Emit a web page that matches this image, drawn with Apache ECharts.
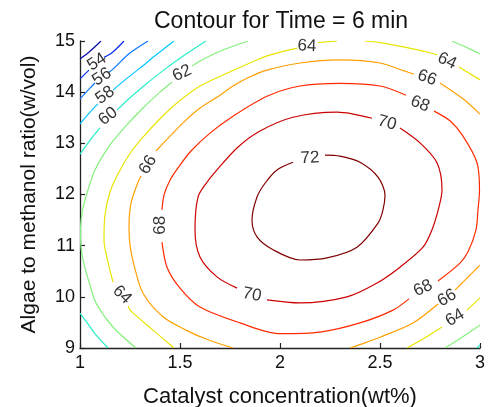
<!DOCTYPE html>
<html><head><meta charset="utf-8">
<script src="https://cdn.jsdelivr.net/npm/echarts@6/dist/echarts.min.js"></script>
<style>html,body{margin:0;padding:0;background:#fff}#c{width:493px;height:407px}</style>
</head><body><div id="c"></div>
<script>
const FONT = '"Liberation Sans", Arial, Helvetica, sans-serif';
const titleText = 'Contour for Time = 6 min';
const xName = 'Catalyst concentration(wt%)';
const yName = 'Algae to methanol ratio(w/vol)';
const xRange = [1, 3, 0.5];
const yRange = [9, 15, 1];

// contour lines, [x, y]; null = break (label gap / separate piece)
const c52 = [[1.0,14.65],[1.05,14.80],[1.105,15.0]];
const c54 = [[1.0,14.26],[1.045,14.43],null,[1.12,14.68],[1.16,14.77],[1.22,15.0]];
const c56 = [[1.0,13.87],[1.05,14.08],[1.075,14.18],null,[1.145,14.39],[1.165,14.45],[1.245,14.75],[1.34,15.0]];
const c58 = [[1.0,13.38],[1.05,13.61],[1.09,13.77],null,[1.165,14.04],[1.225,14.24],[1.30,14.47],[1.375,14.71],[1.47,15.0]];
const c60 = [[1.0,12.79],[1.05,13.06],[1.10,13.30],null,[1.185,13.65],[1.25,13.89],[1.325,14.14],[1.425,14.45],[1.525,14.73],[1.63,15.0],
  null,[1.0,9.68],[1.04,9.47],[1.085,9.23],[1.14,9.0],
  null,[2.985,9.0],[3.0,9.06]];
const c62 = [[1.84,15.0],[1.70,14.80],[1.60,14.61],[1.56,14.51],null,[1.46,14.20],[1.40,14.00],[1.315,13.69],[1.225,13.32],[1.15,12.97],[1.075,12.48],[1.04,12.09],[1.015,11.74],[1.0025,11.31],[1.005,10.97],[1.025,10.56],[1.05,10.23],[1.08,9.88],[1.165,9.41],[1.28,9.0],
  null,[2.86,15.0],[2.93,14.88],[3.0,14.75],
  null,[2.825,9.0],[2.91,9.21],[3.0,9.45]];
const c64 = [[1.47,9.0],[1.365,9.35],[1.255,9.72],[1.24,9.82],null,[1.165,10.29],[1.14,10.68],[1.12,11.11],[1.125,11.60],[1.15,12.05],[1.195,12.44],[1.255,12.83],[1.315,13.12],[1.40,13.48],[1.485,13.79],[1.60,14.12],[1.735,14.37],[1.85,14.57],[1.935,14.71],[2.085,14.86],
  null,[2.19,14.97],[2.285,15.0],
  null,[2.425,15.0],[2.50,14.97],[2.625,14.88],[2.75,14.77],[2.785,14.73],null,[2.895,14.49],[3.0,14.24],
  null,[2.635,9.0],[2.725,9.20],[2.81,9.41],null,[2.935,9.74],[3.0,9.98]];
const c66 = [[1.765,9.0],[1.64,9.16],[1.53,9.35],[1.415,9.61],[1.315,10.07],[1.27,10.62],[1.25,11.01],[1.245,11.36],[1.255,11.83],[1.29,12.24],[1.305,12.36],null,[1.38,12.85],[1.45,13.14],[1.515,13.40],[1.60,13.69],[1.70,13.94],[1.765,14.12],[1.85,14.30],[1.935,14.43],[2.10,14.57],[2.30,14.63],[2.50,14.57],[2.625,14.41],[2.67,14.35],null,[2.80,14.18],[2.915,13.87],[3.0,13.57],
  null,[3.0,10.62],[2.875,10.13],null,[2.79,9.86],[2.665,9.49],[2.50,9.21],[2.425,9.10],[2.35,9.0]];
const c68 = [[1.41,11.70],[1.42,11.99],[1.45,12.28],[1.49,12.52],[1.555,12.85],[1.65,13.20],[1.765,13.53],[1.935,13.92],[2.10,14.12],[2.30,14.17],[2.50,14.12],[2.63,13.94],null,[2.77,13.63],[2.85,13.44],[2.915,13.14],[2.985,12.62],[2.9975,12.09],[2.99,11.70],[2.98,11.31],[2.94,10.88],[2.90,10.66],[2.79,10.31],null,[2.645,9.96],[2.565,9.74],[2.40,9.49],[2.20,9.31],[2.0,9.28],[1.80,9.49],[1.60,9.80],[1.50,10.17],[1.435,10.58],[1.41,11.07]];
const c70 = [[2.60,13.30],[2.70,13.01],[2.785,12.62],[2.81,12.09],[2.795,11.76],[2.76,11.31],[2.715,10.97],[2.60,10.58],[2.485,10.27],[2.335,10.00],[2.10,9.88],[1.935,9.94],null,[1.785,10.17],[1.685,10.39],[1.60,10.78],[1.575,11.31],[1.59,11.95],[1.635,12.24],[1.685,12.48],[1.785,12.91],[1.90,13.24],[2.065,13.51],[2.285,13.61],[2.46,13.49]];
const c72 = [[2.225,12.77],[2.30,12.75],[2.40,12.63],[2.49,12.34],[2.525,11.99],[2.515,11.70],[2.49,11.44],[2.385,10.97],[2.235,10.76],[2.10,10.72],[1.965,10.92],[1.885,11.17],[1.86,11.50],[1.885,11.95],[1.925,12.22],[1.985,12.48],[2.065,12.63]];

const levels = [52,54,56,58,60,62,64,66,68,70,72];
const levelLines = [c52,c54,c56,c58,c60,c62,c64,c66,c68,c70,c72];
const levelColors = ['#0a0aa8','#0a2cf0','#0a78ff','#00c8ff','#28eec8','#84f27c','#e8e400','#ffa000','#ff2a00','#cc0000','#800000'];

// contour labels: level, x, y, angle
const labelLevel = [54,56,58,60,62,64,64,64,64,66,66,66,68,68,68,70,70,72];
const labelX     = [1.085,1.11,1.125,1.14,1.51,1.21,2.135,2.835,2.875,1.34,2.735,2.835,1.40,2.70,2.715,2.535,1.86,2.15];
const labelY     = [14.59,14.30,13.94,13.53,14.37,10.04,14.90,14.61,9.59,12.58,14.28,9.98,11.40,13.77,10.17,13.40,10.04,12.71];
const labelAngle = [33,33,35,38,25,-45,-3,-25,30,59,-20,30,90,-22,25,-15,-12,3];

function splitSegs(arr){
  const out=[]; let cur=[];
  arr.forEach(p=>{ if(p===null){ if(cur.length) out.push(cur); cur=[]; } else cur.push(p); });
  if(cur.length) out.push(cur);
  return out;
}

const series = [];
levelLines.forEach((arr,i)=>{
  splitSegs(arr).forEach(seg=>{
    series.push({type:'line', data:seg, showSymbol:false, smooth:0.3, silent:true,
      lineStyle:{color:levelColors[i], width:1.2}, z:2});
  });
});
series.push({
  type:'scatter', symbolSize:1, itemStyle:{color:'rgba(0,0,0,0)'}, silent:true, z:5,
  data: labelLevel.map((lv,i)=>({value:[labelX[i],labelY[i]],
    label:{show:true, position:'inside', formatter:String(lv), rotate:labelAngle[i],
      fontSize:17, color:'#000', fontFamily:FONT, textBorderWidth:0}}))
});

const chart = echarts.init(document.getElementById('c'), null, {renderer:'canvas'});
chart.setOption({
  animation:false,
  backgroundColor:'#fff',
  title:{text:titleText, left:149, top:5, textStyle:{fontSize:23, fontWeight:'normal', color:'#111', fontFamily:FONT}},
  grid:{left:80, right:13, top:41, bottom:59, containLabel:false, outerBoundsMode:'none'},
  xAxis:{type:'value', min:xRange[0], max:xRange[1], interval:xRange[2],
    name:xName, nameLocation:'middle', nameGap:38,
    nameTextStyle:{fontSize:22, color:'#111', fontFamily:FONT},
    axisLine:{show:true, onZero:false, lineStyle:{color:'#222', width:1.3}},
    axisTick:{show:true, inside:true, length:5, lineStyle:{color:'#222', width:1.2}},
    axisLabel:{fontSize:18, color:'#111', margin:6, fontFamily:FONT},
    splitLine:{show:false}},
  yAxis:{type:'value', min:yRange[0], max:yRange[1], interval:yRange[2],
    name:yName, nameLocation:'middle', nameGap:40,
    nameTextStyle:{fontSize:21, color:'#111', fontFamily:FONT},
    axisLine:{show:true, onZero:false, lineStyle:{color:'#222', width:1.3}},
    axisTick:{show:true, inside:true, length:5, lineStyle:{color:'#222', width:1.2}},
    axisLabel:{fontSize:18, color:'#111', margin:5, fontFamily:FONT},
    splitLine:{show:false}},
  series: series
});
</script></body></html>
